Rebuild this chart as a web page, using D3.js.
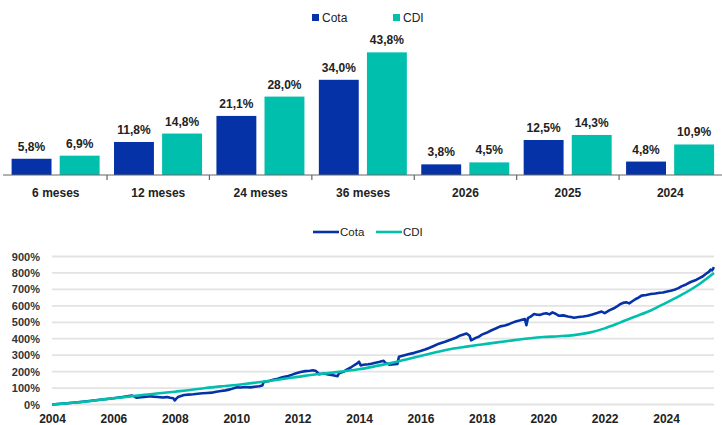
<!DOCTYPE html>
<html><head><meta charset="utf-8">
<script src="https://cdn.jsdelivr.net/npm/d3@7"></script>
<style>
html,body{margin:0;padding:0;background:#fff;}
svg{display:block;font-family:"Liberation Sans",Arial,sans-serif;}
</style></head>
<body><svg id="c" width="722" height="425"></svg>
<script>
// ---- Bar chart data ----
const categories = ["6 meses","12 meses","24 meses","36 meses","2026","2025","2024"];
const barSeries = ["Cota","CDI"];
const cotaBars = [5.8, 11.8, 21.1, 34.0, 3.8, 12.5, 4.8];
const cdiBars  = [6.9, 14.8, 28.0, 43.8, 4.5, 14.3, 10.9];

// ---- Line chart data (cumulative %, x = fractional year) ----
const cotaYears = [2004.0,2004.5,2005.0,2005.5,2006.0,2006.3,2006.6,2006.7,2006.75,2006.9,2007.0,2007.2,2007.3,2007.45,2007.6,2007.75,2007.85,2007.95,2008.0,2008.05,2008.1,2008.3,2008.45,2008.6,2008.75,2008.9,2009.05,2009.2,2009.35,2009.5,2009.65,2009.8,2010.0,2010.15,2010.3,2010.45,2010.6,2010.75,2010.85,2010.9,2011.05,2011.2,2011.35,2011.5,2011.65,2011.8,2011.95,2012.1,2012.25,2012.4,2012.5,2012.6,2012.7,2012.85,2013.0,2013.15,2013.3,2013.35,2013.5,2013.6,2013.75,2013.9,2014.0,2014.05,2014.15,2014.3,2014.4,2014.5,2014.65,2014.8,2014.85,2014.9,2015.0,2015.15,2015.25,2015.3,2015.45,2015.6,2015.8,2016.0,2016.15,2016.3,2016.45,2016.6,2016.8,2017.0,2017.15,2017.3,2017.4,2017.5,2017.6,2017.65,2017.8,2017.9,2018.0,2018.15,2018.3,2018.45,2018.6,2018.75,2018.9,2019.0,2019.1,2019.25,2019.4,2019.45,2019.5,2019.6,2019.7,2019.8,2019.9,2020.0,2020.1,2020.2,2020.3,2020.4,2020.5,2020.65,2020.8,2020.9,2021.0,2021.15,2021.3,2021.45,2021.6,2021.75,2021.9,2022.0,2022.15,2022.3,2022.4,2022.5,2022.6,2022.7,2022.8,2022.9,2023.0,2023.1,2023.2,2023.35,2023.5,2023.65,2023.8,2023.9,2024.0,2024.15,2024.3,2024.4,2024.5,2024.65,2024.8,2024.95,2025.1,2025.2,2025.3,2025.4,2025.45,2025.5,2025.56];
const cotaValues = [0,8,17,27,38,46,54,48,41,44,46,50,48,46,43,45,41,38,25,36,45,58,60,62,65,68,70,72,78,82,86,92,104,103,106,104,108,111,115,138,142,150,157,165,171,180,190,198,203,205,208,203,184,188,182,178,172,190,200,212,228,245,260,238,242,245,248,252,258,266,254,250,242,245,247,290,298,305,314,325,334,345,357,370,382,395,406,420,426,432,418,390,405,412,425,436,450,462,475,480,490,498,505,512,520,482,525,536,550,546,545,552,555,548,560,552,540,542,535,532,528,532,535,540,548,556,565,556,572,585,596,610,618,622,615,628,640,650,662,666,672,675,680,681,686,692,700,708,718,730,745,755,770,780,795,808,820,815,835];
const cdiYears = [2004.0,2004.5,2005.0,2005.5,2006.0,2006.5,2007.0,2007.5,2008.0,2008.5,2009.0,2009.5,2010.0,2010.5,2011.0,2011.5,2012.0,2012.5,2013.0,2013.5,2014.0,2014.5,2015.0,2015.5,2016.0,2016.5,2017.0,2017.5,2018.0,2018.5,2019.0,2019.5,2020.0,2020.5,2021.0,2021.5,2022.0,2022.5,2023.0,2023.5,2024.0,2024.5,2025.0,2025.56];
const cdiValues = [0,8,16,27,38,48,59,68,78,88,100,110,119,130,141,155,168,181,191,202,214,232,250,272,295,318,338,352,365,378,390,401,410,415,422,437,463,498,535,572,618,666,722,800];
const yTicks = [0,100,200,300,400,500,600,700,800,900];
const xTicks = [2004,2006,2008,2010,2012,2014,2016,2018,2020,2022,2024];

const BLUE = "#0632a8", TEAL = "#00bfad";
const svg = d3.select("#c");

// ================= BAR CHART =================
const x0 = d3.scaleBand().domain(categories).range([4.6, 721.5]);
const x1 = d3.scaleBand().domain(barSeries).range([7, 95]).paddingInner(0.17);
const yb = d3.scaleLinear().domain([0, 50]).range([175, 35]);
const barColor = d3.scaleOrdinal().domain(barSeries).range([BLUE, TEAL]);
const barData = categories.map((c,i)=>({cat:c, vals:[{s:"Cota",v:cotaBars[i]},{s:"CDI",v:cdiBars[i]}]}));

const g = svg.append("g");
const grp = g.selectAll("g.grp").data(barData).join("g")
  .attr("transform", d=>`translate(${x0(d.cat)},0)`);
grp.selectAll("rect").data(d=>d.vals).join("rect")
  .attr("x", d=>x1(d.s)).attr("width", x1.bandwidth())
  .attr("y", d=>yb(d.v)).attr("height", d=>yb(0)-yb(d.v))
  .attr("fill", d=>barColor(d.s));
grp.selectAll("text.lbl").data(d=>d.vals).join("text").attr("class","lbl")
  .attr("x", d=>x1(d.s)+x1.bandwidth()/2).attr("y", d=>yb(d.v)-8)
  .attr("text-anchor","middle").attr("font-size",12).attr("font-weight","bold").attr("fill","#222")
  .text(d=>d3.format(".1f")(d.v).replace(".",",")+"%");

// axis
const xAxisB = d3.axisBottom(x0).tickSize(0).tickPadding(0);
const ax = g.append("g").attr("transform","translate(0,175)").call(xAxisB);
ax.select(".domain").attr("d","M3,0H722").attr("stroke","#666").attr("stroke-width",1.2);
ax.selectAll(".tick text").attr("font-size",12).attr("font-weight","bold").attr("fill","#222")
  .attr("dy",0).attr("y",22);
ax.selectAll(".tick line").remove();
categories.slice(1).forEach(c=>{
  ax.append("line").attr("x1",x0(c)).attr("x2",x0(c)).attr("y1",0).attr("y2",5)
    .attr("stroke","#666").attr("stroke-width",1.2);
});

// legend
const legB = g.append("g").attr("font-size",12).attr("fill","#222");
[["Cota",312],["CDI",393]].forEach(([s,x])=>{
  legB.append("rect").attr("x",x).attr("y",14).attr("width",7).attr("height",7).attr("fill",barColor(s));
  legB.append("text").attr("x",x+10).attr("y",22).attr("fill","#222").text(s);
});

// ================= LINE CHART =================
const xl = d3.scaleLinear().domain([2004, 2025.56]).range([52, 714]);
const yl = d3.scaleLinear().domain([0, 900]).range([404.5, 256.5]);
const lg = svg.append("g");

lg.append("g").selectAll("line").data(yTicks).join("line")
  .attr("x1",52).attr("x2",714).attr("y1",d=>yl(d)).attr("y2",d=>yl(d))
  .attr("stroke","#e3e3e3").attr("stroke-width",1.8);

const yAx = lg.append("g").attr("transform","translate(40,0)")
  .call(d3.axisLeft(yl).tickValues(yTicks).tickSize(0).tickPadding(0).tickFormat(d=>d+"%"));
yAx.select(".domain").remove();
yAx.selectAll(".tick text").attr("font-size",11).attr("font-weight","bold").attr("fill","#333")
  .attr("font-family","Liberation Sans, Arial, sans-serif");

const xAx = lg.append("g").attr("transform","translate(0,412)")
  .call(d3.axisBottom(xl).tickValues(xTicks).tickSize(0).tickPadding(0).tickFormat(d3.format("d")));
xAx.select(".domain").remove();
xAx.selectAll(".tick text").attr("font-size",12).attr("font-weight","bold").attr("fill","#222")
  .attr("font-family","Liberation Sans, Arial, sans-serif").attr("dy","0.71em").attr("y",2);

const line = d3.line().x(d=>xl(d[0])).y(d=>yl(d[1]));
const cotaPts = cotaYears.map((y,i)=>[y,cotaValues[i]]);
const cdiPts = cdiYears.map((y,i)=>[y,cdiValues[i]]);
lg.append("path").datum(cotaPts).attr("d",line).attr("fill","none")
  .attr("stroke",BLUE).attr("stroke-width",2.6).attr("stroke-linejoin","round");
lg.append("path").datum(cdiPts).attr("d",d3.line().curve(d3.curveMonotoneX).x(d=>xl(d[0])).y(d=>yl(d[1])))
  .attr("fill","none").attr("stroke",TEAL).attr("stroke-width",2.6);

// legend line chart
const legL = lg.append("g").attr("font-size",11.5).attr("fill","#222");
[["Cota",313,BLUE],["CDI",376,TEAL]].forEach(([s,x,c])=>{
  legL.append("line").attr("x1",x).attr("x2",x+26).attr("y1",232).attr("y2",232)
    .attr("stroke",c).attr("stroke-width",2.6);
  legL.append("text").attr("x",x+27).attr("y",236).attr("fill","#222").text(s);
});
</script></body></html>
